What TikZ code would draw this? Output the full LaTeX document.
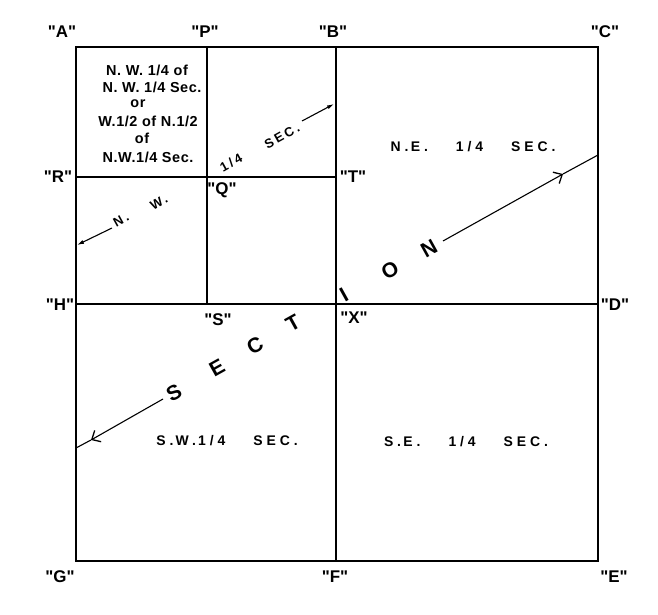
\documentclass[tikz,border=0pt]{standalone}
\usepackage{fontspec}
\setmainfont{Liberation Sans}[Ligatures=TeXOff]
\newfontfamily\lblfont{Liberation Sans}[Ligatures=TeXOff]
\newfontfamily\widefont{Liberation Sans}[LetterSpace=28,WordSpace=1.8]
\newfontfamily\boxfont{Liberation Sans}[LetterSpace=4]
\newfontfamily\diagfont{Liberation Sans}[LetterSpace=20]
\newcommand{\qq}[1]{\char34 #1\char34 }
\usetikzlibrary{arrows.meta}
\begin{document}
\begin{tikzpicture}[x=1bp,y=-1bp,
  border/.style={line width=2.2bp},
  inner/.style={line width=2bp},
  lbl/.style={font=\lblfont\bfseries\fontsize{17}{17}\selectfont, inner sep=0},
  boxtxt/.style={font=\boxfont\bfseries\fontsize{14.5}{14.5}\selectfont, inner sep=0},
  qtr/.style={font=\widefont\bfseries\fontsize{14}{14}\selectfont, inner sep=0},
  big/.style={font=\bfseries\fontsize{21}{21}\selectfont, inner sep=0, rotate=29},
  diag/.style={font=\diagfont\bfseries\fontsize{13}{13}\selectfont, inner sep=0, rotate=29},
  thinline/.style={line width=1.1bp},
  bigtip/.style={-{Straight Barb[length=7bp,width=13bp,line width=1.3bp]}},
  smalltip/.style={-{Latex[length=7bp,width=4bp]}}]
\fill[white] (0,0) rectangle (658,615);
\useasboundingbox (0,0) rectangle (658,615);

% corners
\coordinate (cA) at (76,47);
\coordinate (cP) at (207,47);
\coordinate (cB) at (336,47);
\coordinate (cC) at (598,47);
\coordinate (cR) at (76,177);
\coordinate (cQ) at (207,177);
\coordinate (cT) at (336,177);
\coordinate (cH) at (76,304);
\coordinate (cS) at (207,304);
\coordinate (cX) at (336,304);
\coordinate (cD) at (598,304);
\coordinate (cG) at (76,561);
\coordinate (cF) at (336,561);
\coordinate (cE) at (598,561);

% lines
\draw[border] (cA) rectangle (cE);
\draw[border] (cB) -- (cF);
\draw[border] (cH) -- (cD);
\draw[inner] (cP) -- (cS);
\draw[inner] (cR) -- (cT);

% labels
\node[lbl] (lA) at (62,32) {\qq{A}};
\node[lbl] (lP) at (205,32) {\qq{P}};
\node[lbl] (lB) at (333,32) {\qq{B}};
\node[lbl] (lC) at (605,32) {\qq{C}};
\node[lbl] (lR) at (58,177) {\qq{R}};
\node[lbl] (lQ) at (222,190) {\qq{Q}};
\node[lbl] (lT) at (353,177) {\qq{T}};
\node[lbl] (lH) at (60,305) {\qq{H}};
\node[lbl] (lS) at (218,320) {\qq{S}};
\node[lbl] (lX) at (354,318) {\qq{X}};
\node[lbl] (lD) at (615,305) {\qq{D}};
\node[lbl] (lG) at (60,577) {\qq{G}};
\node[lbl] (lF) at (335,577) {\qq{F}};
\node[lbl] (lE) at (614,577) {\qq{E}};

% NW of NW box text
\node[boxtxt] (b1) at (147,70) {N. W. 1/4 of};
\node[boxtxt] (b2) at (152,87) {N. W. 1/4 Sec.};
\node[boxtxt] (b3) at (138,104) {or};
\node[boxtxt] (b4) at (148,121) {W.1/2 of N.1/2};
\node[boxtxt] (b5) at (142,138) {of};
\node[boxtxt] (b6) at (148,157) {N.W.1/4 Sec.};

% quarter texts
\node[qtr] (ne) at (473,147) {N.\,E.\ \ 1/4\ \ SEC.};
\node[qtr] (sw) at (227,441) {S.\,W.\,1/4\ \ SEC.};
\node[qtr] (se) at (466,442) {S.\,E.\ \ 1/4\ \ SEC.};

% N.W. 1/4 SEC. diagonal
\node[diag] (dN) at (121,220) {N.};
\node[diag] (dW) at (159,202) {W.};
\node[diag] (d14) at (231,163) {1/4};
\node[diag] (dSEC) at (282,136) {SEC.};
\coordinate (nwS) at (112,228);
\coordinate (nwT) at (77,245);
\coordinate (secS) at (302,121);
\coordinate (secT) at (334,104);
\draw[thinline,smalltip] (nwS) -- (nwT);
\draw[thinline,smalltip] (secS) -- (secT);

% SECTION diagonal
\node[big] (s1) at (174,393) {S};
\node[big] (s2) at (217,368) {E};
\node[big] (s3) at (255,346) {C};
\node[big] (s4) at (293,323) {T};
\node[big] (s5) at (344,295) {I};
\node[big] (s6) at (390,270) {O};
\node[big] (s7) at (429,249) {N};

\coordinate (sL) at (163,399);
\coordinate (tipL) at (91,440);
\coordinate (edgeL) at (76,448);
\coordinate (sR) at (443,241);
\coordinate (tipR) at (563,174);
\coordinate (edgeR) at (598,155);
\draw[thinline,bigtip] (sL) -- (tipL);
\draw[thinline] (tipL) -- (edgeL);
\draw[thinline,bigtip] (sR) -- (tipR);
\draw[thinline] (tipR) -- (edgeR);
\end{tikzpicture}
\end{document}
